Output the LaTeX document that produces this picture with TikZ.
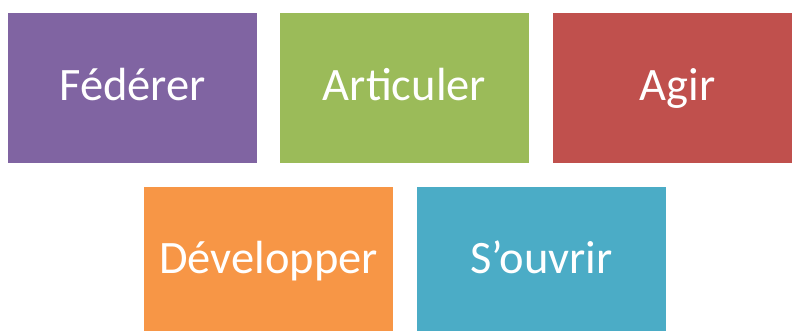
\documentclass[tikz,border=0pt]{standalone}
\usepackage{fontspec}
\setmainfont{Carlito}
\usepackage{xcolor}
\usetikzlibrary{positioning}
\definecolor{fedcol}{HTML}{8064A2}
\definecolor{artcol}{HTML}{9BBB59}
\definecolor{agicol}{HTML}{C0504D}
\definecolor{devcol}{HTML}{F79646}
\definecolor{ouvcol}{HTML}{4BACC6}
\tikzset{%
	block/.style  = {rectangle, inner sep=0pt, minimum width=249pt, minimum height=150pt, text=white, font=\fontsize{46.5}{54}\selectfont, text height=32pt, text depth=6pt, text centered},
	lowrow/.style = {text height=29pt, text depth=7pt},
}
\begin{document}
\begin{tikzpicture}[x=1pt,y=-1pt]
	\useasboundingbox (0,0) rectangle (792,331);
	\clip (0,0) rectangle (792,331);
	
	\node[block,fill=fedcol] (fed) at (132.5,88) {Fédérer};
	\node[block,fill=artcol] (art) at (404.5,88) {Articuler};
	\node[block,fill=agicol] (agi) at (677.5,88) {Agir};
	
	\node[block,lowrow,fill=devcol] (dev) at (268.5,262) {Développer};
	\node[block,lowrow,fill=ouvcol] (ouv) at (541.5,262) {S’ouvrir};
\end{tikzpicture}
\end{document}
